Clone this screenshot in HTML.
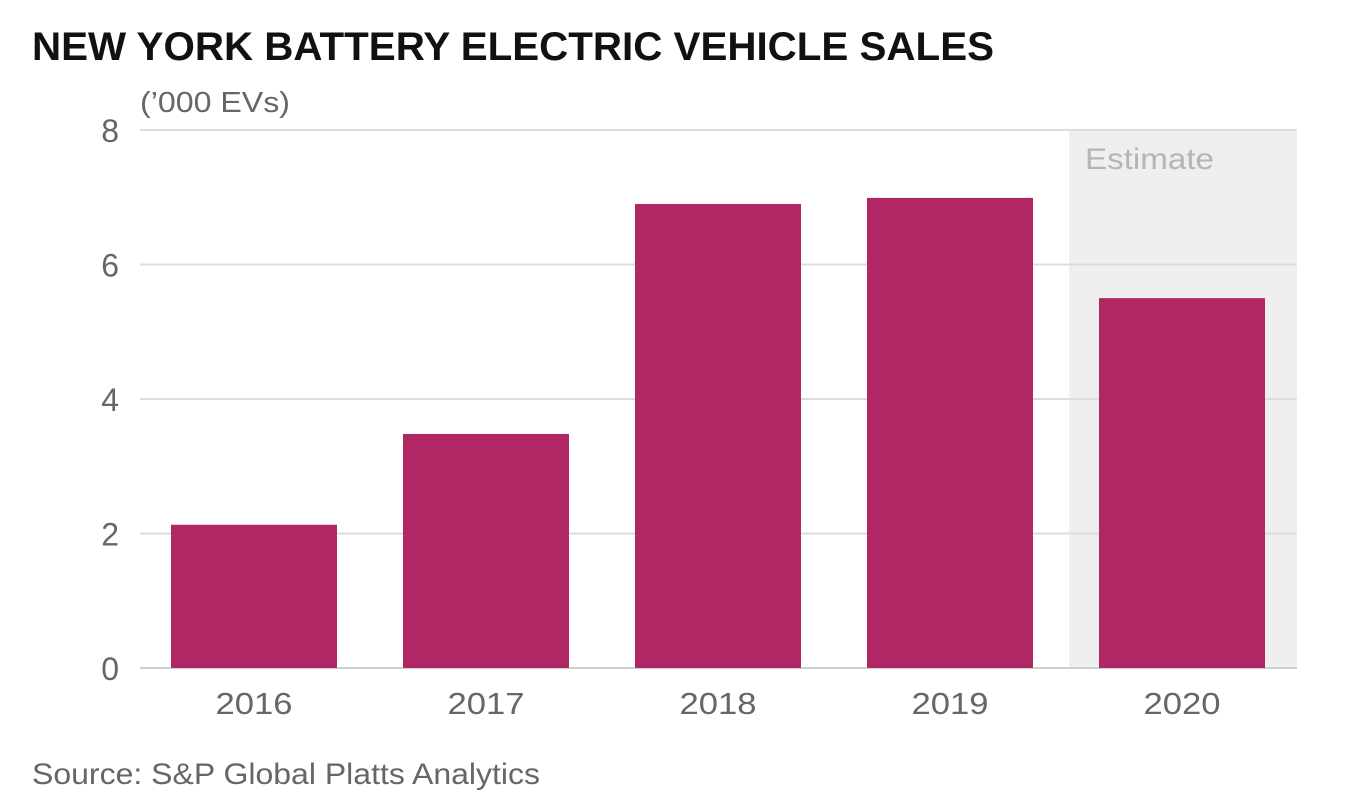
<!DOCTYPE html>
<html><head><meta charset="utf-8"><style>
html,body{margin:0;padding:0;background:#fff;}
svg{display:block;font-family:"Liberation Sans",sans-serif;}
</style></head><body>
<svg id="chart" width="1346" height="812" viewBox="0 0 1346 812">
<text x="32" y="60" font-size="40" font-weight="bold" fill="#111" textLength="962" lengthAdjust="spacingAndGlyphs">NEW YORK BATTERY ELECTRIC VEHICLE SALES</text>
<text x="140" y="112" font-size="29" fill="#666" textLength="150" lengthAdjust="spacingAndGlyphs">(’000 EVs)</text>
<g id="plot"></g>
<text x="32" y="784" font-size="30" fill="#666" textLength="508" lengthAdjust="spacingAndGlyphs">Source: S&amp;P Global Platts Analytics</text>
</svg>
<script>
const categories = ["2016","2017","2018","2019","2020"];
const values = [2.13, 3.48, 6.9, 6.99, 5.5];
const yTicks = [0, 2, 4, 6, 8];
const estimateCategory = "2020";

const plotLeft = 140, plotRight = 1297, yTop = 130, yBottom = 668, yMax = 8;
const band = (plotRight - plotLeft + 3) / categories.length;
const bandStart = plotLeft - 2;
const barW = 166;
const y = v => yBottom - (v / yMax) * (yBottom - yTop);
const xc = i => bandStart + band * (i + 0.5);
const NS = "http://www.w3.org/2000/svg";
const g = document.getElementById("plot");
function mk(tag, attrs){const e=document.createElementNS(NS,tag);for(const k in attrs)e.setAttribute(k,attrs[k]);g.appendChild(e);return e;}

const ei = categories.indexOf(estimateCategory);
const shadeX = xc(ei) - band/2 + 3;
const shade = mk("rect",{x:shadeX,y:yTop,width:plotRight-shadeX,height:yBottom-yTop,fill:"#efefef"});


const et = mk("text",{x:shadeX+16,y:yTop+39,"font-size":30,fill:"#b5b5b5",textLength:129,lengthAdjust:"spacingAndGlyphs"});
et.textContent="Estimate";



yTicks.forEach(t=>{
  const l = mk("line",{x1:plotLeft,x2:plotRight,y1:y(t),y2:y(t),stroke:t===0?"#cfcfcf":"#dcdcdc","stroke-width":2});
  
  
  const tx = mk("text",{x:119,y:y(t)+12,"font-size":32,fill:"#666","text-anchor":"end"});
  tx.textContent=t;
  
  
});

categories.forEach((c,i)=>{
  const cx = xc(i);
  const r = mk("rect",{x:cx-barW/2,y:y(values[i]),width:barW,height:yBottom-y(values[i]),fill:"#b12765"});
  
  
  const tx = mk("text",{x:cx,y:714,"font-size":31,fill:"#666","text-anchor":"middle",textLength:77,lengthAdjust:"spacingAndGlyphs"});
  tx.textContent=c;
  
  
});
</script>
</body></html>
